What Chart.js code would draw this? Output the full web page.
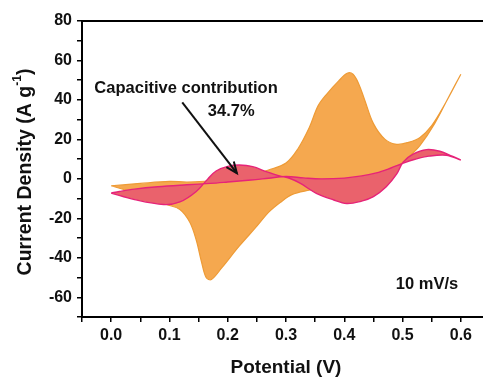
<!DOCTYPE html>
<html>
<head>
<meta charset="utf-8">
<script src="https://cdn.jsdelivr.net/npm/chart.js@4.4.1/dist/chart.umd.min.js"></script>
<style>
  html, body { margin: 0; padding: 0; background: #fff; overflow: hidden; }
  canvas { display: block; }
</style>
</head>
<body>
<canvas id="cvChart" width="495" height="380"></canvas>
<script>
// Curva CV total (barrido anódico y luego catódico), 10 mV/s
const totalPotential = [0.0, 0.05, 0.10, 0.13, 0.16, 0.20, 0.24, 0.27, 0.30, 0.32, 0.34, 0.355, 0.37, 0.39, 0.405, 0.415, 0.425, 0.435, 0.45, 0.47, 0.49, 0.51, 0.53, 0.55, 0.57, 0.60,
                        0.60, 0.58, 0.555, 0.53, 0.51, 0.49, 0.45, 0.40, 0.36, 0.335, 0.31, 0.29, 0.27, 0.25, 0.22, 0.19, 0.172, 0.163, 0.155, 0.146, 0.135, 0.118, 0.095, 0.05, 0.0];
const totalCurrent = [-3.5, -2.3, -1.3, -1.6, -1.2, 0, 2, 4.5, 8, 15, 26, 37, 43, 49.5, 53.5, 53, 48, 40, 28, 20, 17.5, 18.5, 21, 27, 36.5, 53,
                      53, 42, 28, 17, 11, 6, 0, -3, -5, -6, -8, -12, -17, -24, -34, -45, -51, -50, -42, -31, -22, -15.5, -13, -8, -3.5];

// Contribución capacitiva
const capPotential = [0.0, 0.04, 0.09, 0.118, 0.146, 0.166, 0.18, 0.20, 0.22, 0.243, 0.266, 0.289, 0.306, 0.324, 0.352, 0.381, 0.404, 0.427, 0.45, 0.472, 0.49, 0.501, 0.518, 0.541, 0.564, 0.585, 0.60,
                      0.60, 0.575, 0.545, 0.52, 0.50, 0.48, 0.455, 0.43, 0.40, 0.36, 0.33, 0.30, 0.27, 0.24, 0.20, 0.17, 0.13, 0.08, 0.04, 0.014, 0.0];
const capCurrent = [-7.2, -10.5, -13, -11.7, -6.4, 0, 4, 6.3, 7, 6.2, 3.7, 1.5, 0.3, -2.2, -7.3, -10.6, -12.5, -11.5, -9, -4, 2.5, 8.5, 12.5, 14.8, 14, 11.5, 9.5,
                    9.5, 12, 11.5, 9.8, 7.8, 5.5, 3, 1.5, 0.4, 0, 0.5, 1.2, 0.3, -0.6, -1.6, -2.3, -3, -4, -5.2, -6.4, -7.2];

// Ejes
const xTickLabels = ['0.0', '0.1', '0.2', '0.3', '0.4', '0.5', '0.6'];
const yTickLabels = ['80', '60', '40', '20', '0', '-20', '-40', '-60'];

// Anotaciones (coordenadas de datos)
const labelMain = ['Capacitive contribution', 0.1285, 46];
const labelPct = ['34.7%', 0.206, 34];
const labelRate = ['10 mV/s', 0.542, -53.7];
const arrowFrom = [0.122, 38.8];
const arrowTo = [0.2157, 2.9];

const FONT = '"Liberation Sans", Arial, sans-serif';

function toPoints(xs, ys) {
    return xs.map((x, i) => ({ x: x, y: ys[i] }));
}

const decorPlugin = {
    id: 'decor',
    afterDraw(chart) {
        const ctx = chart.ctx;
        const a = chart.chartArea;
        const xs = chart.scales.x;
        const ys = chart.scales.y;
        ctx.save();

        // marco superior y derecho
        ctx.strokeStyle = '#000';
        ctx.lineWidth = 2;
        ctx.beginPath();
        ctx.moveTo(a.left, a.top);
        ctx.lineTo(a.right, a.top);
        ctx.lineTo(a.right, a.bottom);
        ctx.stroke();

        // textos
        ctx.fillStyle = '#111';
        ctx.textAlign = 'center';
        ctx.textBaseline = 'middle';
        ctx.font = 'bold 16.5px ' + FONT;
        [labelMain, labelPct, labelRate].forEach(l => {
            ctx.fillText(l[0], xs.getPixelForValue(l[1]), ys.getPixelForValue(l[2]));
        });

        // flecha
        const x0 = xs.getPixelForValue(arrowFrom[0]), y0 = ys.getPixelForValue(arrowFrom[1]);
        const x1 = xs.getPixelForValue(arrowTo[0]), y1 = ys.getPixelForValue(arrowTo[1]);
        const ang = Math.atan2(y1 - y0, x1 - x0);
        ctx.lineWidth = 2;
        ctx.strokeStyle = '#111';
        ctx.beginPath();
        ctx.moveTo(x0, y0);
        ctx.lineTo(x1, y1);
        ctx.stroke();
        ctx.beginPath();
        ctx.moveTo(x1 - 12 * Math.cos(ang - 0.4), y1 - 12 * Math.sin(ang - 0.4));
        ctx.lineTo(x1, y1);
        ctx.lineTo(x1 - 12 * Math.cos(ang + 0.4), y1 - 12 * Math.sin(ang + 0.4));
        ctx.stroke();

        // título del eje Y con superíndice
        const main = 'Current Density (A g';
        const sup = '-1';
        const tail = ')';
        ctx.font = 'bold 19.5px ' + FONT;
        const wMain = ctx.measureText(main).width;
        const wTail = ctx.measureText(tail).width;
        ctx.font = 'bold 12px ' + FONT;
        const wSup = ctx.measureText(sup).width;
        const total = wMain + wSup + wTail;
        ctx.translate(31, 172);
        ctx.rotate(-Math.PI / 2);
        ctx.textAlign = 'left';
        ctx.textBaseline = 'alphabetic';
        let px = -total / 2;
        ctx.font = 'bold 19.5px ' + FONT;
        ctx.fillText(main, px, 0);
        px += wMain;
        ctx.font = 'bold 12px ' + FONT;
        ctx.fillText(sup, px, -10);
        px += wSup;
        ctx.font = 'bold 19.5px ' + FONT;
        ctx.fillText(tail, px, 0);
        ctx.restore();
    }
};

new Chart(document.getElementById('cvChart').getContext('2d'), {
    type: 'scatter',
    data: {
        datasets: [{
            label: 'Total',
            data: toPoints(totalPotential, totalCurrent),
            showLine: true,
            borderColor: '#EE9B36',
            backgroundColor: '#F5A84F',
            borderWidth: 1.2,
            pointRadius: 0,
            tension: 0.35,
            fill: 'shape',
            order: 2
        }, {
            label: 'Capacitive',
            data: toPoints(capPotential, capCurrent),
            showLine: true,
            borderColor: '#E62379',
            backgroundColor: '#EA626C',
            borderWidth: 1.4,
            pointRadius: 0,
            tension: 0.35,
            fill: 'shape',
            order: 1
        }]
    },
    options: {
        responsive: false,
        animation: false,
        layout: { padding: { left: 0, right: 5, top: 21, bottom: 0 } },
        plugins: {
            legend: { display: false },
            tooltip: { enabled: false }
        },
        scales: {
            x: {
                type: 'linear',
                min: -0.05,
                max: 0.65,
                afterFit: s => { s.height = 63; },
                border: { color: '#000', width: 2 },
                grid: { drawOnChartArea: false, color: '#000', lineWidth: 1.5, tickLength: 5 },
                ticks: {
                    stepSize: 0.05,
                    autoSkip: false,
                    maxRotation: 0,
                    padding: 4,
                    color: '#111',
                    font: { family: FONT, size: 16, weight: 'bold' },
                    callback: function(value) {
                        const t = Math.round(value * 100);
                        if (t % 10 !== 0 || t < 0) return '';
                        return xTickLabels[t / 10] || '';
                    }
                },
                title: {
                    display: true,
                    text: 'Potential (V)',
                    color: '#111',
                    font: { family: FONT, size: 19, weight: 'bold' },
                    padding: { top: 4, bottom: 1 }
                }
            },
            y: {
                min: -70,
                max: 80,
                afterFit: s => { s.width = 82; },
                border: { color: '#000', width: 2 },
                grid: { drawOnChartArea: false, color: '#000', lineWidth: 1.5, tickLength: 5 },
                ticks: {
                    stepSize: 10,
                    autoSkip: false,
                    padding: 5,
                    color: '#111',
                    font: { family: FONT, size: 16, weight: 'bold' },
                    callback: function(value) {
                        const v = Math.round(value);
                        if (v % 20 !== 0) return '';
                        return yTickLabels[(80 - v) / 20] || '';
                    }
                }
            }
        }
    },
    plugins: [decorPlugin]
});
</script>
</body>
</html>
